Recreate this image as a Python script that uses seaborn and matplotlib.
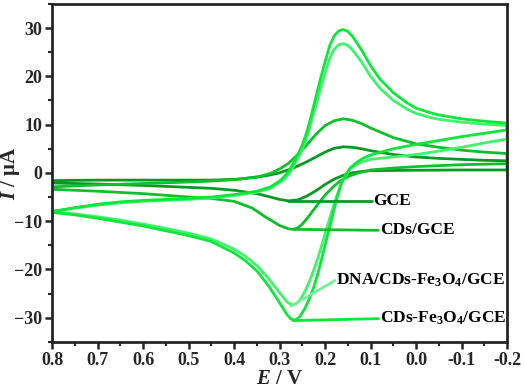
import seaborn as sns
import matplotlib.pyplot as plt
import numpy as np
import pandas as pd

# Cyclic voltammograms (E in V, I in µA)
# GCE
gce_e_cat = [0.80, 0.70, 0.60, 0.50, 0.45, 0.40, 0.35, 0.32, 0.30, 0.28, 0.26, 0.24, 0.22, 0.20, 0.18, 0.16, 0.14, 0.12, 0.10, 0.05, 0.00, -0.10, -0.20]
gce_i_cat = [-2.1, -2.3, -2.6, -3.0, -3.2, -3.6, -4.3, -5.0, -5.5, -5.8, -5.6, -4.8, -3.7, -2.4, -1.3, -0.5, 0.0, 0.3, 0.45, 0.5, 0.55, 0.6, 0.6]
gce_e_an = [-0.20, -0.15, -0.10, -0.05, 0.00, 0.05, 0.10, 0.12, 0.14, 0.16, 0.18, 0.20, 0.22, 0.24, 0.27, 0.30, 0.33, 0.39, 0.45, 0.50, 0.60, 0.70, 0.80]
gce_i_an = [2.5, 2.6, 2.8, 3.0, 3.3, 3.8, 4.6, 5.0, 5.3, 5.4, 5.1, 4.3, 3.3, 2.3, 1.0, 0.0, -0.6, -1.3, -1.5, -1.5, -1.5, -1.5, -1.6]

# CDs/GCE
cds_e_cat = [0.80, 0.70, 0.60, 0.50, 0.45, 0.40, 0.36, 0.33, 0.30, 0.28, 0.27, 0.26, 0.25, 0.24, 0.22, 0.20, 0.18, 0.167, 0.15, 0.13, 0.10, 0.05, 0.00, -0.05, -0.10, -0.15, -0.20]
cds_i_cat = [-3.4, -3.8, -4.3, -5.0, -5.3, -5.9, -7.3, -9.2, -10.9, -11.6, -11.7, -11.4, -10.6, -9.5, -7.0, -4.6, -2.7, -1.7, -0.8, -0.1, 0.6, 1.0, 1.3, 1.5, 1.7, 1.8, 1.9]
cds_e_an = [-0.20, -0.15, -0.10, -0.05, 0.00, 0.05, 0.10, 0.12, 0.14, 0.16, 0.18, 0.20, 0.22, 0.24, 0.26, 0.28, 0.30, 0.32, 0.35, 0.40, 0.45, 0.50, 0.60, 0.70, 0.80]
cds_i_an = [4.0, 4.3, 4.7, 5.3, 6.0, 7.3, 9.3, 10.2, 10.9, 11.2, 10.8, 9.8, 8.0, 5.8, 3.8, 2.0, 0.8, -0.1, -0.9, -1.4, -1.7, -1.9, -2.2, -2.5, -2.9]

# CDs-Fe3O4/GCE and DNA/CDs-Fe3O4/GCE (shared potential grid)
big_e_cat = [0.80, 0.75, 0.70, 0.65, 0.60, 0.55, 0.50, 0.45, 0.40, 0.375,
             0.35, 0.325, 0.30, 0.285, 0.275, 0.265, 0.255, 0.245, 0.235, 0.225,
             0.215, 0.205, 0.195, 0.185, 0.175, 0.165, 0.155, 0.145, 0.13, 0.115,
             0.10, 0.05, 0.00, -0.05, -0.10, -0.15, -0.20]
fe_i_cat = [-8.2, -8.7, -9.4, -10.2, -11.0, -12.0, -13.0, -14.2, -16.6, -18.2,
            -20.3, -23.3, -26.9, -29.2, -30.3, -30.5, -29.7, -28.2, -26.2, -23.7,
            -20.6, -16.9, -13.1, -9.4, -5.6, -2.4, -0.4, 1.0, 2.2, 3.1,
            3.7, 5.0, 5.9, 6.7, 7.5, 8.2, 8.9]
dna_i_cat = [-8.0, -8.5, -9.1, -9.8, -10.6, -11.5, -12.5, -13.7, -15.8, -17.3,
             -19.2, -21.8, -24.8, -26.6, -27.3, -27.2, -26.3, -24.7, -22.6, -20.2,
             -17.4, -14.3, -11.0, -7.9, -5.0, -2.4, -0.6, 0.8, 1.8, 2.4,
             2.8, 3.3, 3.8, 4.5, 5.3, 6.2, 7.0]
big_e_an = [-0.20, -0.15, -0.10, -0.05, -0.03, 0.00, 0.02, 0.05, 0.08, 0.10,
            0.12, 0.14, 0.15, 0.16, 0.17, 0.18, 0.19, 0.20, 0.21, 0.22,
            0.23, 0.24, 0.25, 0.26, 0.27, 0.28, 0.29, 0.30, 0.32, 0.35,
            0.40, 0.45, 0.50, 0.55, 0.60, 0.65, 0.70, 0.75, 0.80]
fe_i_an = [10.3, 10.7, 11.2, 12.0, 12.5, 13.4, 14.5, 16.6, 19.5, 22.2,
           25.5, 28.3, 29.3, 29.7, 29.4, 28.4, 26.3, 23.0, 19.5, 15.8,
           12.0, 8.5, 5.8, 3.8, 1.9, 0.3, -0.8, -1.7, -2.9, -3.8,
           -4.5, -5.0, -5.3, -5.5, -5.7, -6.0, -6.5, -7.2, -8.0]
dna_i_an = [9.8, 10.1, 10.5, 11.1, 11.5, 12.3, 13.2, 15.0, 17.6, 20.0,
            23.0, 25.5, 26.4, 26.8, 26.5, 25.6, 23.7, 20.7, 17.4, 14.0,
            10.6, 7.4, 4.9, 3.0, 1.2, -0.3, -1.3, -2.0, -3.2, -4.0,
            -4.7, -5.2, -5.5, -5.7, -5.9, -6.2, -6.7, -7.3, -8.0]

x_ticks = [0.8, 0.7, 0.6, 0.5, 0.4, 0.3, 0.2, 0.1, 0.0, -0.1, -0.2]
y_ticks = [-30, -20, -10, 0, 10, 20, 30]

col_gce = '#079a23'
col_cds = '#0fbf2c'
col_fe = '#0ee63a'
col_dna = '#3ef46a'

sns.set_style('ticks')
plt.rcParams['font.family'] = ['Liberation Serif', 'DejaVu Serif']
plt.rcParams['font.weight'] = 'bold'
plt.rcParams['mathtext.fontset'] = 'custom'
plt.rcParams['mathtext.rm'] = 'Liberation Serif:bold'
plt.rcParams['mathtext.it'] = 'Liberation Serif:italic:bold'
plt.rcParams['mathtext.bf'] = 'Liberation Serif:bold'

fig = plt.figure(figsize=(5.26, 3.92), dpi=100)
ax = fig.add_axes([0.099, 0.128, 0.865, 0.862])

# on trace chaque voltammogramme comme une boucle (aller + retour)
curves = [
    (gce_e_cat + gce_e_an, gce_i_cat + gce_i_an, col_gce),
    (cds_e_cat + cds_e_an, cds_i_cat + cds_i_an, col_cds),
    (big_e_cat + big_e_an, dna_i_cat + dna_i_an, col_dna),
    (big_e_cat + big_e_an, fe_i_cat + fe_i_an, col_fe),
]
for e, i, c in curves:
    df = pd.DataFrame({'E': e, 'I': i})
    sns.lineplot(data=df, x='E', y='I', sort=False, estimator=None,
                 color=c, lw=2.0, ax=ax)

# étiquettes avec traits de rappel
labels = [
    ('GCE', (0.281, -5.8), (0.097, -5.8), col_gce),
    ('CDs/GCE', (0.270, -11.7), (0.083, -11.9), col_cds),
    ('DNA/CDs-Fe$_3$O$_4$/GCE', (0.275, -27.6), (0.178, -22.3), '#74f294'),
    ('CDs-Fe$_3$O$_4$/GCE', (0.270, -30.6), (0.083, -30.2), col_fe),
]
for txt, p0, p1, c in labels:
    ax.plot([p0[0], p1[0]], [p0[1], p1[1]], color=c, lw=2.0)
    ax.text(p1[0] - 0.003, p1[1], txt, fontsize=12.5, fontweight='bold',
            ha='left', va='center', color='black')

ax.set_xlim(0.8, -0.2)
ax.set_ylim(-35, 35)
ax.set_xticks(x_ticks)
ax.set_xticklabels([f'{v:.1f}' for v in x_ticks])
ax.set_xticks(np.arange(-0.15, 0.8, 0.1), minor=True)
ax.set_yticks(y_ticks)
ax.set_yticks(np.arange(-35, 36, 10), minor=True)
ax.tick_params(which='major', direction='out', length=5, width=1.8,
               labelsize=13, pad=2)
ax.tick_params(which='minor', direction='out', length=3, width=1.5)
for s in ax.spines.values():
    s.set_linewidth(2.0)

ax.set_xlabel('$E$ / V', fontsize=15, fontweight='bold', labelpad=0)
ax.set_ylabel('$I$ / μA', fontsize=15, fontweight='bold')
ax.yaxis.set_label_coords(-0.066, 0.5)

fig.savefig('out.png', dpi=100)
